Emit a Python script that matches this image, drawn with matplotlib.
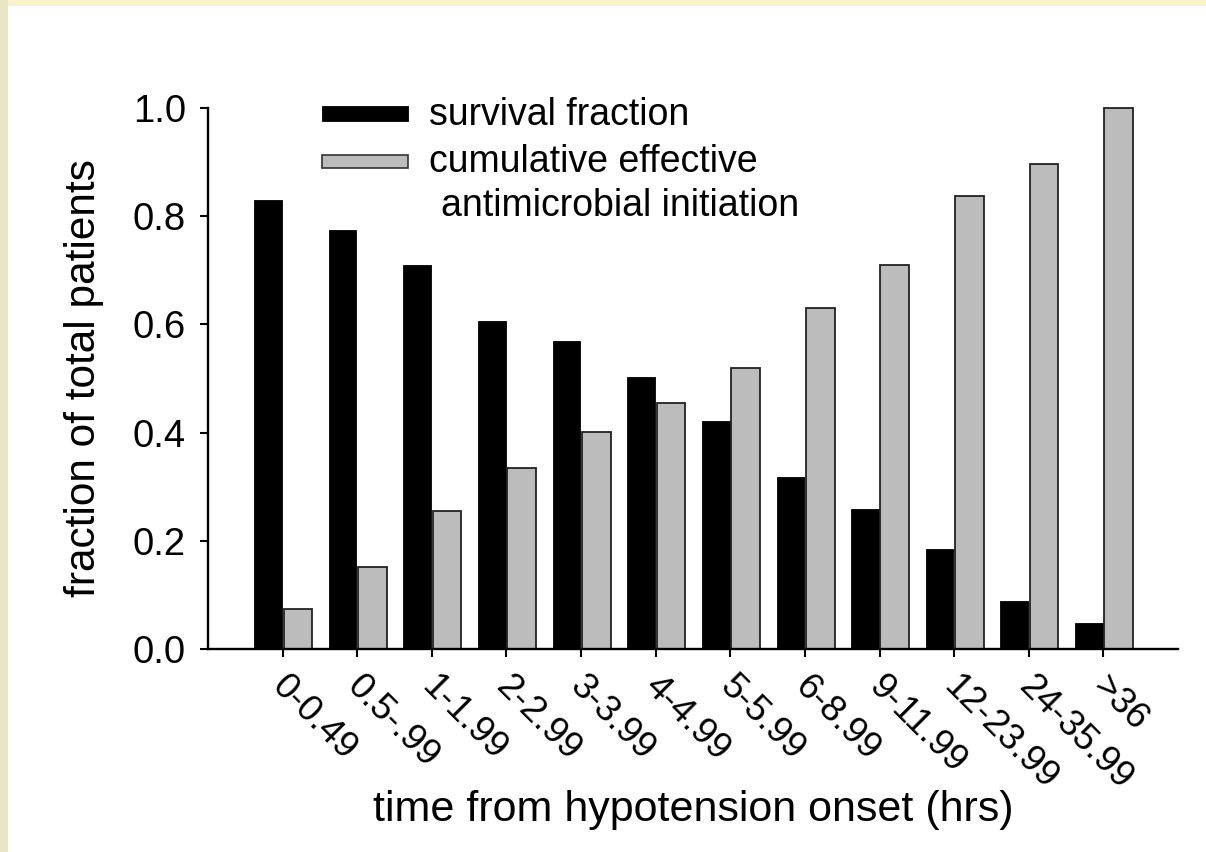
import numpy as np
import matplotlib
matplotlib.use("Agg")
import matplotlib.pyplot as plt
import matplotlib.transforms as mtransforms
from matplotlib.patches import Rectangle

plt.rcParams['font.family'] = ['Liberation Sans', 'DejaVu Sans']

categories = ["0-0.49", "0.5-.99", "1-1.99", "2-2.99", "3-3.99", "4-4.99", "5-5.99",
              "6-8.99", "9-11.99", "12-23.99", "24-35.99", ">36"]
survival = [0.83, 0.774, 0.709, 0.607, 0.570, 0.502, 0.422, 0.318, 0.259, 0.185, 0.089, 0.048]
cumulative = [0.074, 0.152, 0.256, 0.335, 0.402, 0.454, 0.520, 0.631, 0.709, 0.837, 0.896, 1.0]
yticks = [0.0, 0.2, 0.4, 0.6, 0.8, 1.0]
ytick_labels = ["0.0", "0.2", "0.4", "0.6", "0.8", "1.0"]

W, H = 1206, 852
def fx(px):
    return px / W
def fy(py):
    return 1 - py / H

fig = plt.figure(figsize=(W / 100, H / 100), dpi=100)
fig.patch.set_facecolor('#f7f3d1')
fig.add_artist(Rectangle((0, 0), fx(8), 1, transform=fig.transFigure,
                         facecolor='#e9e6c3', edgecolor='none', zorder=0))
fig.add_artist(Rectangle((fx(8), 0), 1 - fx(8), fy(6), transform=fig.transFigure,
                         facecolor='white', edgecolor='none', zorder=0))

ax = fig.add_axes([fx(208), fy(649), (1178 - 208) / W, (649 - 108) / H])
ax.set_facecolor('none')

x = np.arange(len(categories))
ax.bar(x - 0.38, survival, width=0.37, align='edge', color='black',
       edgecolor='black', linewidth=0.6, clip_on=False, zorder=2)
ax.bar(x + 0.012, cumulative, width=0.385, align='edge', color='#bcbcbc',
       edgecolor='#222222', linewidth=1.3, clip_on=False, zorder=2)

ax.set_xlim(-1.0, 12.0)
ax.set_ylim(0, 1.0)

for s in ['top', 'right']:
    ax.spines[s].set_visible(False)
ax.spines['left'].set_bounds(0, 1.0)
ax.spines['left'].set_linewidth(1.7)
ax.spines['bottom'].set_linewidth(1.7)

ax.set_yticks(yticks)
ax.set_yticklabels(ytick_labels)
ax.set_xticks(x)
ax.set_xticklabels(categories, rotation=-45, ha='left', va='top',
                   rotation_mode='anchor')
ax.tick_params(axis='y', direction='out', length=6, width=1.5, pad=10,
               labelsize=27.5)
ax.tick_params(axis='x', direction='out', length=6, width=1.5, pad=6.5,
               labelsize=26.5)
offset = mtransforms.ScaledTranslation(7 / 100, -3 / 100, fig.dpi_scale_trans)
for lbl in ax.get_xticklabels():
    lbl.set_transform(lbl.get_transform() + offset)

ax.set_xlabel("time from hypotension onset (hrs)", fontsize=31)
ax.xaxis.label.set_va('baseline')
ax.xaxis.set_label_coords(0.5, (649 - 821) / 541)
ax.set_ylabel("fraction of total patients", fontsize=30.5)
ax.yaxis.set_label_coords((104 - 208) / 970, 0.5)

# legend (drawn manually)
fig.add_artist(Rectangle((fx(322), fy(121)), fx(408) - fx(322), fy(106) - fy(121),
                         transform=fig.transFigure, facecolor='black',
                         edgecolor='black', linewidth=0.6))
fig.add_artist(Rectangle((fx(322), fy(168)), fx(408) - fx(322), fy(155) - fy(168),
                         transform=fig.transFigure, facecolor='#bcbcbc',
                         edgecolor='#333333', linewidth=1.2))
fig.text(fx(429), fy(125), "survival fraction", fontsize=27, va='baseline', ha='left')
fig.text(fx(429), fy(172), "cumulative effective", fontsize=27, va='baseline', ha='left')
fig.text(fx(441), fy(216), "antimicrobial initiation", fontsize=27, va='baseline', ha='left')

fig.savefig("out.png", dpi=100, facecolor=fig.get_facecolor())
